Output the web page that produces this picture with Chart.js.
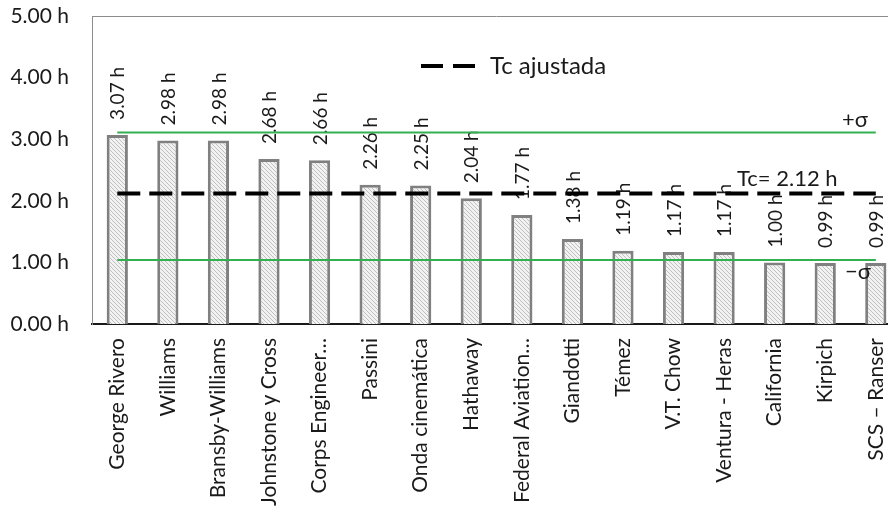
<!DOCTYPE html>
<html>
<head>
<meta charset="utf-8">
<script src="https://cdn.jsdelivr.net/npm/chart.js@4/dist/chart.umd.min.js"></script>
<style>
  body { margin: 0; overflow: hidden; background: #fff; }
  #myChart { display: block; }
</style>
</head>
<body>
<canvas id="myChart" width="907" height="512"></canvas>
<script>
const metodos = ['George Rivero', 'Williams', 'Bransby-Williams', 'Johnstone y Cross', 'Corps Engineer\u2026',
  'Passini', 'Onda cinemática', 'Hathaway', 'Federal Aviation\u2026', 'Giandotti', 'Témez', 'V.T. Chow',
  'Ventura - Heras', 'California', 'Kirpich', 'SCS \u2013 Ranser'];
const tiempos = [3.07, 2.98, 2.98, 2.68, 2.66, 2.26, 2.25, 2.04, 1.77, 1.38, 1.19, 1.17, 1.17, 1.00, 0.99, 0.99];
const tcAjustada = 2.12;
const sigmaSup = 3.11;
const sigmaInf = 1.04;
const yTicks = [0, 1, 2, 3, 4, 5];

// hatched fill for the bars
function hatch() {
  const c = document.createElement('canvas');
  c.width = 4; c.height = 4;
  const g = c.getContext('2d');
  g.fillStyle = '#f2f2f2';
  g.fillRect(0, 0, 4, 4);
  g.strokeStyle = '#c0c0c0';
  g.lineWidth = 1;
  g.beginPath();
  g.moveTo(-1, -1); g.lineTo(5, 5);
  g.moveTo(-1, 3); g.lineTo(1, 5);
  g.moveTo(3, -1); g.lineTo(5, 1);
  g.stroke();
  return g.createPattern(c, 'repeat');
}

const extras = {
  id: 'extras',
  afterDatasetDraw(chart, args) {
    if (args.meta.type !== 'bar') return;
    const ctx = chart.ctx;
    ctx.save();
    ctx.font = '19px Lato';
    ctx.fillStyle = '#1a1a1a';
    ctx.textAlign = 'left';
    ctx.textBaseline = 'middle';
    args.meta.data.forEach((bar, i) => {
      ctx.save();
      ctx.translate(bar.x, bar.y - 15);
      ctx.rotate(-Math.PI / 2);
      ctx.fillText(tiempos[i].toFixed(2) + ' h', 0, 1);
      ctx.restore();
    });
    ctx.restore();
  },
  afterDraw(chart) {
    const ctx = chart.ctx;
    const a = chart.chartArea;
    const y = chart.scales.y;
    const top = a.top; // legend is placed relative to the plot box
    ctx.save();
    // top border of the plot box
    ctx.strokeStyle = '#8c8c8c';
    ctx.lineWidth = 1;
    ctx.beginPath();
    ctx.moveTo(a.left, top + 0.5);
    ctx.lineTo(a.right, top + 0.5);
    ctx.stroke();
    // legend
    ctx.strokeStyle = '#000';
    ctx.lineWidth = 4;
    ctx.setLineDash([22, 10]);
    ctx.beginPath();
    ctx.moveTo(421, top + 50);
    ctx.lineTo(479, top + 50);
    ctx.stroke();
    ctx.setLineDash([]);
    ctx.fillStyle = '#1a1a1a';
    ctx.font = '24px Lato';
    ctx.textBaseline = 'alphabetic';
    ctx.textAlign = 'left';
    ctx.fillText('Tc ajustada', 490, top + 58);
    // line labels
    ctx.font = '22px Lato';
    ctx.fillText('Tc= ' + tcAjustada.toFixed(2) + ' h', 737, y.getPixelForValue(tcAjustada) - 7);
    ctx.fillText('+\u03c3', 842, y.getPixelForValue(sigmaSup) - 5);
    ctx.fillText('\u2212\u03c3', 845, y.getPixelForValue(sigmaInf) + 19);
    ctx.restore();
  }
};

const lineaPlana = v => metodos.map(() => v);

new Chart(document.getElementById('myChart'), {
  type: 'bar',
  data: {
    labels: metodos,
    datasets: [
      {
        type: 'bar',
        label: 'Tc',
        data: tiempos,
        backgroundColor: hatch(),
        borderColor: '#808080',
        borderWidth: 3,
        barPercentage: 0.42,
        categoryPercentage: 1,
        order: 3
      },
      {
        type: 'line',
        label: '+σ',
        data: lineaPlana(sigmaSup),
        borderColor: '#33b050',
        borderWidth: 2,
        pointRadius: 0,
        order: 2
      },
      {
        type: 'line',
        label: '-σ',
        data: lineaPlana(sigmaInf),
        borderColor: '#33b050',
        borderWidth: 2,
        pointRadius: 0,
        order: 2
      },
      {
        type: 'line',
        label: 'Tc ajustada',
        data: lineaPlana(tcAjustada),
        borderColor: '#000',
        borderWidth: 4,
        borderDash: [23, 9],
        pointRadius: 0,
        order: 1
      }
    ]
  },
  options: {
    responsive: false,
    animation: false,
    devicePixelRatio: 1,
    layout: { padding: { top: 16, right: 0, bottom: 0, left: 0 } },
    plugins: { legend: { display: false }, tooltip: { enabled: false } },
    scales: {
      x: {
        grid: { display: false },
        border: { display: true, color: '#1a1a1a', width: 2 },
        ticks: {
          color: '#1a1a1a',
          font: { family: 'Lato', size: 21 },
          minRotation: 90,
          maxRotation: 90,
          autoSkip: false,
          padding: 6
        },
        afterFit(s) { s.height = 188; }
      },
      y: {
        min: 0,
        max: 5,
        afterBuildTicks(s) { s.ticks = yTicks.map(v => ({ value: v })); },
        grid: { display: false },
        border: { display: true, color: '#8c8c8c', width: 1 },
        ticks: {
          color: '#1a1a1a',
          font: { family: 'Lato', size: 21 },
          padding: 15,
          callback: v => v.toFixed(2) + ' h'
        },
        afterFit(s) {
          s.width = 92;
          s.paddingTop = 0;
          s.paddingBottom = 0;
        }
      }
    }
  },
  plugins: [extras]
});
</script>
</body>
</html>
